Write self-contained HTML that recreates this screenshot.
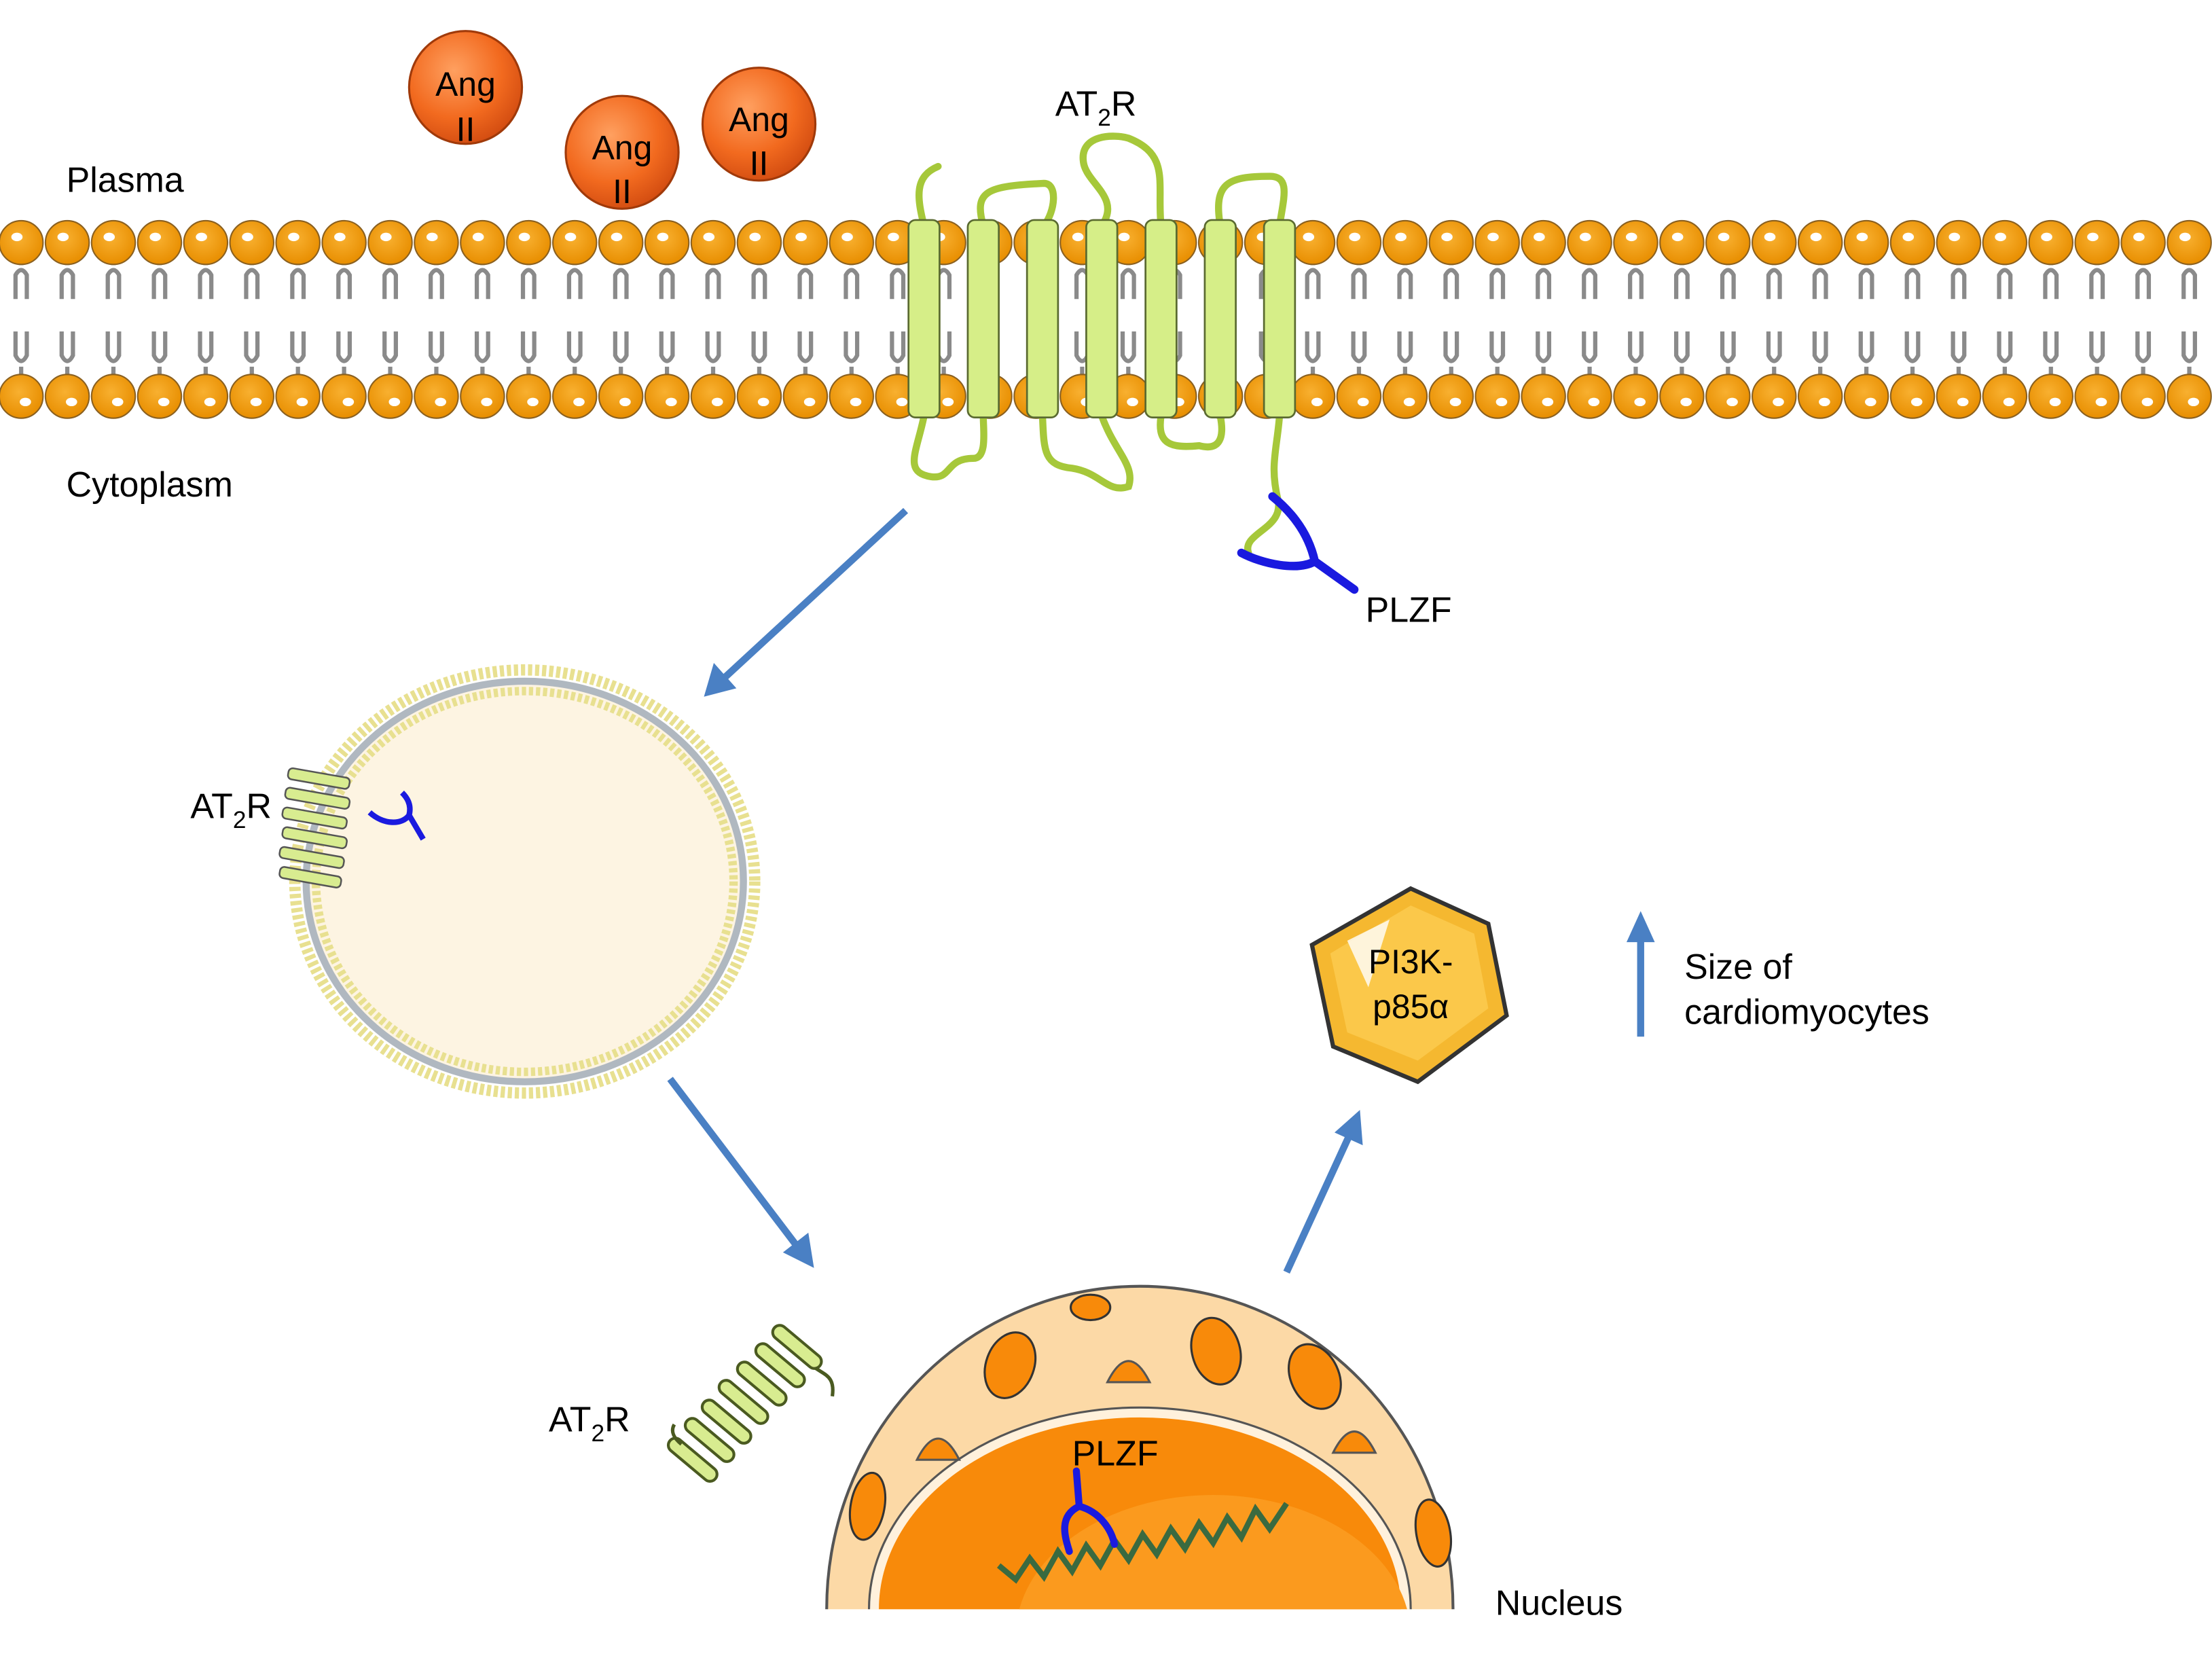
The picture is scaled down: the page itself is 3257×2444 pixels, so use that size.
<!DOCTYPE html>
<html><head><meta charset="utf-8"><style>
html,body{margin:0;padding:0;background:#fff;overflow:hidden;width:3257px;height:2444px;}
svg{display:block;}
text{font-family:"Liberation Sans",Arial,sans-serif;fill:#000;}
</style></head><body>
<svg id="s" width="3257" height="2444" viewBox="0 0 1568 1177" preserveAspectRatio="none" xmlns="http://www.w3.org/2000/svg">
<defs>
<radialGradient id="ang" cx="0.4" cy="0.35" r="0.7"><stop offset="0" stop-color="#ffa060"/><stop offset="0.6" stop-color="#f26a1f"/><stop offset="1" stop-color="#d04a10"/></radialGradient>
<radialGradient id="head" cx="0.45" cy="0.4" r="0.6"><stop offset="0" stop-color="#f8b030"/><stop offset="1" stop-color="#e88e00"/></radialGradient>
<clipPath id="nc"><rect x="0" y="0" width="1568" height="1141"/></clipPath>
</defs>
<g id="mem"></g>
<g id="rec" fill="none" stroke="#a6c83a" stroke-width="5" stroke-linecap="round">
<path d="M655 160 C650 140 648 125 665 118"/>
<path d="M697 160 C690 135 700 132 740 130 C750 130 748 150 740 160"/>
<path d="M781 160 C795 140 770 130 768 115 C765 95 790 95 800 98 C830 110 820 130 823 160"/>
<path d="M865 160 C860 130 870 125 900 125 C915 125 910 140 907 160"/>
<path d="M655 295 C650 320 640 335 660 338 C675 340 670 325 690 325 C700 325 697 305 697 295"/>
<path d="M739 295 C740 320 740 330 760 332 C780 335 785 350 800 345 C805 330 790 320 781 295"/>
<path d="M823 295 C820 315 830 318 850 316 C865 320 868 310 865 295"/>
<path d="M907 295 C905 320 900 330 906 355 C910 375 880 378 885 392"/>
</g>
<g id="hel"></g>
<path d="M880 392 C895 400 920 405 932 398 L960 418 M932 398 C928 380 918 365 902 352" fill="none" stroke="#1a1adf" stroke-width="6" stroke-linecap="round"/>
<circle cx="330" cy="62" r="40" fill="url(#ang)" stroke="#a03a0a" stroke-width="1.5"/>
<circle cx="441" cy="108" r="40" fill="url(#ang)" stroke="#a03a0a" stroke-width="1.5"/>
<circle cx="538" cy="88" r="40" fill="url(#ang)" stroke="#a03a0a" stroke-width="1.5"/>
<g font-size="24" text-anchor="middle">
<text x="330" y="68">Ang</text><text x="330" y="100">II</text>
<text x="441" y="113">Ang</text><text x="441" y="144">II</text>
<text x="538" y="93">Ang</text><text x="538" y="124">II</text>
</g>
<g font-size="25">
<text x="47" y="136">Plasma</text>
<text x="47" y="352">Cytoplasm</text>
<text x="748" y="82">AT<tspan font-size="17" dy="7">2</tspan><tspan dy="-7">R</tspan></text>
<text x="968" y="441">PLZF</text>
<text x="135" y="580">AT<tspan font-size="17" dy="7">2</tspan><tspan dy="-7">R</tspan></text>
<text x="310" y="617">PLZF</text>
<text x="389" y="1015">AT<tspan font-size="17" dy="7">2</tspan><tspan dy="-7">R</tspan></text>
<text x="1194" y="694">Size of</text>
<text x="1194" y="726">cardiomyocytes</text>
<text x="1060" y="1145">Nucleus</text>
</g>
<g stroke="#4a80c4" stroke-width="5" fill="#4a80c4">
<line x1="642" y1="362" x2="512" y2="482"/><polygon points="499,494 506,470 522,488" stroke="none"/>
<line x1="475" y1="765" x2="566" y2="885"/><polygon points="577,899 555,888 573,874" stroke="none"/>
<line x1="912" y1="902" x2="957" y2="804"/><polygon points="964,787 966,812 946,803" stroke="none"/>
<line x1="1163" y1="735" x2="1163" y2="665"/><polygon points="1163,646 1173,668 1153,668" stroke="none"/>
</g>
<ellipse cx="372" cy="625" rx="163" ry="150" fill="none" stroke="#e8e090" stroke-width="8" stroke-dasharray="3 2"/>
<ellipse cx="372" cy="625" rx="155" ry="142" fill="#fdf4e2" stroke="#b0b8c0" stroke-width="5"/>
<ellipse cx="372" cy="625" rx="148" ry="135" fill="none" stroke="#e8e090" stroke-width="6" stroke-dasharray="3 2"/>
<g fill="#d8ec90" stroke="#555" stroke-width="1.2">
<rect x="204" y="548" width="44" height="8" rx="3" transform="rotate(10 226 552)"/>
<rect x="202" y="562" width="46" height="8" rx="3" transform="rotate(10 225 566)"/>
<rect x="200" y="576" width="46" height="8" rx="3" transform="rotate(10 223 580)"/>
<rect x="200" y="590" width="46" height="8" rx="3" transform="rotate(10 223 594)"/>
<rect x="198" y="604" width="46" height="8" rx="3" transform="rotate(10 221 608)"/>
<rect x="198" y="618" width="44" height="8" rx="3" transform="rotate(10 220 622)"/>
</g>
<path d="M262 576 C272 585 285 585 290 578 L300 595 M290 578 C292 570 288 565 285 562" fill="none" stroke="#1a1adf" stroke-width="4"/>
<g fill="#d8ec90" stroke="#4a5a20" stroke-width="2">
<rect x="-21" y="-5" width="42" height="10" rx="5" transform="translate(565 955) rotate(40)"/>
<rect x="-21" y="-5" width="42" height="10" rx="5" transform="translate(553 968) rotate(40)"/>
<rect x="-21" y="-5" width="42" height="10" rx="5" transform="translate(540 981) rotate(40)"/>
<rect x="-21" y="-5" width="42" height="10" rx="5" transform="translate(527 994) rotate(40)"/>
<rect x="-21" y="-5" width="42" height="10" rx="5" transform="translate(515 1008) rotate(40)"/>
<rect x="-21" y="-5" width="42" height="10" rx="5" transform="translate(503 1021) rotate(40)"/>
<rect x="-21" y="-5" width="42" height="10" rx="5" transform="translate(491 1035) rotate(40)"/>
</g>
<path d="M578 970 C585 975 592 976 590 990 M483 1024 C478 1020 475 1015 478 1010" fill="none" stroke="#4a5a20" stroke-width="2.5"/>
<g clip-path="url(#nc)">
<ellipse cx="808" cy="1141" rx="222" ry="229" fill="#fcd9a6" stroke="#555" stroke-width="2"/>
<ellipse cx="808" cy="1141" rx="192" ry="143" fill="#fff1dc" stroke="#555" stroke-width="1.5"/>
<ellipse cx="808" cy="1141" rx="185" ry="136" fill="#f88a0a"/>
<ellipse cx="860" cy="1160" rx="140" ry="100" fill="#fb9a1e"/>
<path d="M650 1035 Q665 1005 680 1035 Z M785 980 Q800 950 815 980 Z M945 1030 Q960 1000 975 1030 Z" fill="#f88a0a" stroke="#555" stroke-width="1.5"/>
<g fill="#f88a0a" stroke="#333" stroke-width="1.5">
<ellipse cx="773" cy="927" rx="14" ry="9"/>
<ellipse cx="716" cy="968" rx="17" ry="24" transform="rotate(20 716 968)"/>
<ellipse cx="862" cy="958" rx="17" ry="24" transform="rotate(-15 862 958)"/>
<ellipse cx="932" cy="976" rx="17" ry="24" transform="rotate(-25 932 976)"/>
<ellipse cx="615" cy="1068" rx="12" ry="24" transform="rotate(10 615 1068)"/>
<ellipse cx="1016" cy="1087" rx="12" ry="24" transform="rotate(-10 1016 1087)"/>
</g>
</g>
<path d="M708 1110 L720 1120 L730 1105 L740 1118 L750 1100 L760 1114 L770 1096 L780 1110 L790 1092 L800 1106 L810 1088 L820 1102 L830 1084 L840 1098 L850 1080 L860 1094 L870 1076 L880 1090 L890 1070 L900 1084 L912 1066" fill="none" stroke="#3a6a40" stroke-width="4"/>
<path d="M763 1043 L765 1068 C750 1075 755 1090 758 1100 M765 1068 C780 1072 788 1085 790 1095" fill="none" stroke="#1a1adf" stroke-width="5" stroke-linecap="round"/>
<text x="760" y="1039" font-size="25">PLZF</text>
<polygon points="1000,630 1055,655 1068,720 1005,767 945,742 930,670" fill="#f5b830" stroke="#333" stroke-width="3"/>
<polygon points="1000,642 1045,662 1055,715 1005,752 955,732 943,676" fill="#fbc84a"/>
<polygon points="955,667 985,652 970,700" fill="#fff" opacity="0.8"/>
<text x="1000" y="690" font-size="24" text-anchor="middle">PI3K-</text>
<text x="1000" y="722" font-size="24" text-anchor="middle">p85α</text>
<script>
(function(){
var ns="http://www.w3.org/2000/svg",m=document.getElementById("mem"),h=document.getElementById("hel");
function el(t,a,p){var e=document.createElementNS(ns,t);for(var k in a)e.setAttribute(k,a[k]);p.appendChild(e);return e;}
for(var x=15;x<1568;x+=32.7){
 el("path",{d:"M"+(x-4)+" 212 L"+(x-4)+" 195 Q"+x+" 188 "+(x+4)+" 195 L"+(x+4)+" 212 M"+(x-4)+" 235 L"+(x-4)+" 252 Q"+x+" 260 "+(x+4)+" 252 L"+(x+4)+" 235 M"+x+" 188 L"+x+" 184 M"+x+" 260 L"+x+" 266",fill:"none",stroke:"#8a8a8a","stroke-width":3},m);
 el("circle",{cx:x,cy:172,r:15.5,fill:"url(#head)",stroke:"#8a6020","stroke-width":1},m);
 el("ellipse",{cx:x-3,cy:168,rx:4,ry:3,fill:"#fff"},m);
 el("circle",{cx:x,cy:281,r:15.5,fill:"url(#head)",stroke:"#8a6020","stroke-width":1},m);
 el("ellipse",{cx:x+3,cy:285,rx:4,ry:3,fill:"#fff"},m);
}
[655,697,739,781,823,865,907].forEach(function(x){
 el("rect",{x:x-11,y:156,width:22,height:140,rx:5,fill:"#d6ee88",stroke:"#5a6a30","stroke-width":1.3},h);
});
})();
</script>
</svg>
</body></html>
